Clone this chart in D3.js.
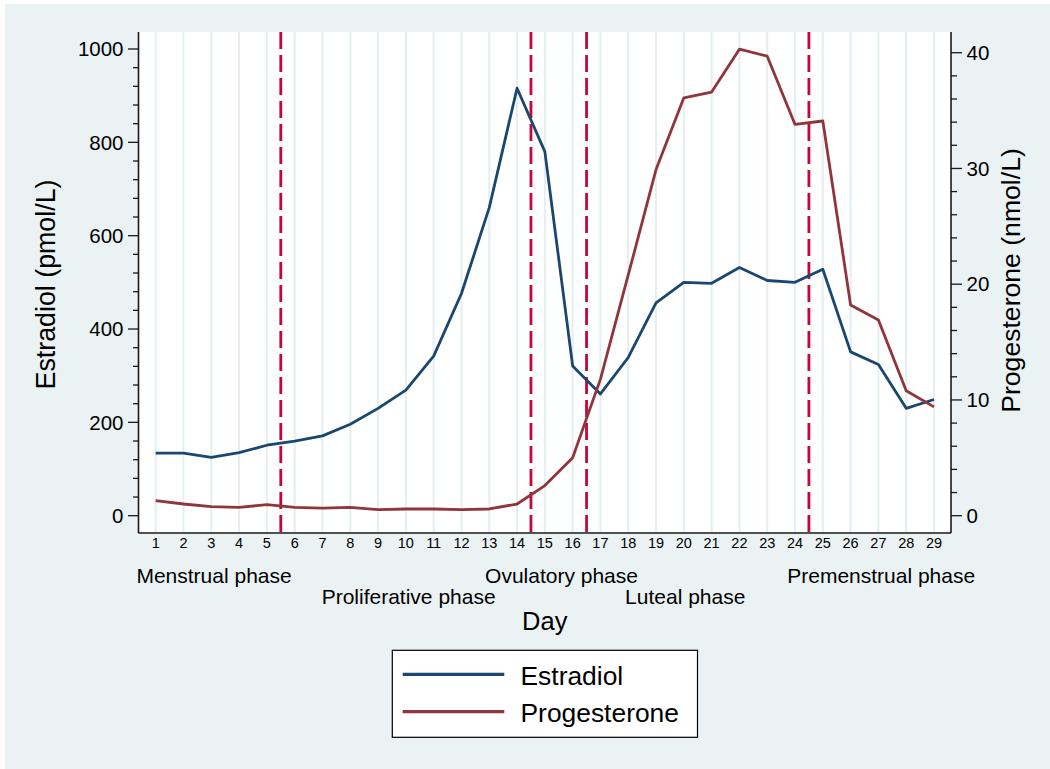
<!DOCTYPE html>
<html>
<head>
<meta charset="utf-8">
<script src="https://cdn.jsdelivr.net/npm/d3@7"></script>
<style>
  html, body { margin: 0; padding: 0; background: #ffffff; }
  svg { display: block; font-family: "Liberation Sans", Arial, Helvetica, sans-serif; }
</style>
</head>
<body>
<svg id="chart" width="1050" height="769"></svg>
<script>
// Cycle days and mean hormone levels per day
const days = [1, 2, 3, 4, 5, 6, 7, 8, 9, 10, 11, 12, 13, 14, 15, 16, 17, 18, 19, 20, 21, 22, 23, 24, 25, 26, 27, 28, 29];
const estradiol = [134, 134, 125, 135, 151, 160, 171, 196, 230, 269, 342, 476, 660, 916, 780,
                   321, 261, 339, 456, 500, 498, 532, 504, 500, 528, 351, 324, 230, 249];
const progesterone = [1.30, 1.01, 0.78, 0.72, 0.95, 0.72, 0.66, 0.72, 0.52, 0.58, 0.58, 0.52, 0.58, 1.01, 2.6,
                      5.0, 11.8, 20.8, 29.9, 36.1, 36.6, 40.3, 39.7, 33.8, 34.1, 18.2, 16.9, 10.8, 9.4];

// Phase boundaries (between days) and phase labels
const phaseBounds = [5.5, 14.5, 16.5, 24.5];
const phaseNames = ["Menstrual phase", "Proliferative phase", "Ovulatory phase", "Luteal phase", "Premenstrual phase"];
const phaseCenters = [3.1, 10.1, 15.6, 20.05, 27.1];
const phaseRows = [0, 1, 0, 1, 0];

// Axis ticks
const leftTicks = [0, 200, 400, 600, 800, 1000];
const leftMinor = [40, 80, 120, 160, 240, 280, 320, 360, 440, 480, 520, 560, 640, 680, 720, 760, 840, 880, 920, 960];
const rightTicks = [0, 10, 20, 30, 40];
const rightMinor = [2, 4, 6, 8, 12, 14, 16, 18, 22, 24, 26, 28, 32, 34, 36, 38];

const seriesNames = ["Estradiol", "Progesterone"];
const colors = { Estradiol: "#1a476f", Progesterone: "#90353b" };

const svg = d3.select("#chart");
const W = 1050, H = 769;

// Plot region edges
const plot = { left: 138.5, right: 951, top: 32, bottom: 533 };

const x = d3.scaleLinear().domain([1, 29]).range([155.7, 934]);
const yL = d3.scaleLinear().domain([0, 1000]).range([515.7, 49]);
const yR = d3.scaleLinear().domain([0, 40]).range([515.7, 52.7]);

// Graph background
svg.append("rect").attr("x", 5).attr("y", 4).attr("width", W - 5).attr("height", H - 4)
  .attr("fill", "#eaf2f3");

// Plot area
svg.append("rect")
  .attr("x", plot.left).attr("y", plot.top)
  .attr("width", plot.right - plot.left).attr("height", plot.bottom - plot.top)
  .attr("fill", "#ffffff");

// Vertical day gridlines
svg.append("g").selectAll("line").data(days).join("line")
  .attr("x1", d => x(d)).attr("x2", d => x(d))
  .attr("y1", plot.top).attr("y2", plot.bottom)
  .attr("stroke", "#e5eef1").attr("stroke-width", 2);

// Phase boundary lines
svg.append("g").selectAll("line").data(phaseBounds).join("line")
  .attr("x1", d => x(d)).attr("x2", d => x(d))
  .attr("y1", plot.top).attr("y2", plot.bottom)
  .attr("stroke", "#c8053a").attr("stroke-width", 2.8)
  .attr("stroke-dasharray", "17 6");

// Series lines
const lineE = d3.line().x((d, i) => x(days[i])).y(d => yL(d));
const lineP = d3.line().x((d, i) => x(days[i])).y(d => yR(d));

svg.append("path").datum(estradiol)
  .attr("d", lineE).attr("fill", "none")
  .attr("stroke", colors.Estradiol).attr("stroke-width", 2.8)
  .attr("stroke-linejoin", "round");

svg.append("path").datum(progesterone)
  .attr("d", lineP).attr("fill", "none")
  .attr("stroke", colors.Progesterone).attr("stroke-width", 2.8)
  .attr("stroke-linejoin", "round");

// Left axis
const gL = svg.append("g").attr("transform", `translate(${plot.left},0)`);
gL.append("line").attr("x1", 0).attr("x2", 0).attr("y1", plot.top).attr("y2", plot.bottom)
  .attr("stroke", "#1a1a1a").attr("stroke-width", 1.6);
gL.selectAll("line.minor").data(leftMinor).join("line").attr("class", "minor")
  .attr("x1", 0).attr("x2", -5.5).attr("y1", d => yL(d)).attr("y2", d => yL(d))
  .attr("stroke", "#1a1a1a").attr("stroke-width", 1.3);
gL.selectAll("line.major").data(leftTicks).join("line").attr("class", "major")
  .attr("x1", 0).attr("x2", -10.5).attr("y1", d => yL(d)).attr("y2", d => yL(d))
  .attr("stroke", "#1a1a1a").attr("stroke-width", 1.3);
gL.selectAll("text").data(leftTicks).join("text")
  .attr("x", -15).attr("y", d => yL(d)).attr("dy", "0.35em")
  .attr("text-anchor", "end").attr("font-size", 20.5).attr("fill", "#000")
  .text(d => d);

// Right axis
const gR = svg.append("g").attr("transform", `translate(${plot.right},0)`);
gR.append("line").attr("x1", 0).attr("x2", 0).attr("y1", plot.top).attr("y2", plot.bottom)
  .attr("stroke", "#1a1a1a").attr("stroke-width", 1.6);
gR.selectAll("line.minor").data(rightMinor).join("line").attr("class", "minor")
  .attr("x1", 0).attr("x2", 6).attr("y1", d => yR(d)).attr("y2", d => yR(d))
  .attr("stroke", "#1a1a1a").attr("stroke-width", 1.3);
gR.selectAll("line.major").data(rightTicks).join("line").attr("class", "major")
  .attr("x1", 0).attr("x2", 11).attr("y1", d => yR(d)).attr("y2", d => yR(d))
  .attr("stroke", "#1a1a1a").attr("stroke-width", 1.3);
gR.selectAll("text").data(rightTicks).join("text")
  .attr("x", 15.5).attr("y", d => yR(d)).attr("dy", "0.35em")
  .attr("text-anchor", "start").attr("font-size", 20.5).attr("fill", "#000")
  .text(d => d);

// Bottom axis
const gB = svg.append("g");
gB.append("line").attr("x1", plot.left).attr("x2", plot.right).attr("y1", plot.bottom).attr("y2", plot.bottom)
  .attr("stroke", "#1a1a1a").attr("stroke-width", 1.6);
gB.selectAll("text.day").data(days).join("text").attr("class", "day")
  .attr("x", d => x(d)).attr("y", 548.3)
  .attr("text-anchor", "middle").attr("font-size", 14.5).attr("fill", "#000")
  .text(d => d);

// Phase labels in two staggered rows
gB.selectAll("text.phase").data(phaseNames).join("text").attr("class", "phase")
  .attr("x", (d, i) => x(phaseCenters[i]))
  .attr("y", (d, i) => phaseRows[i] === 0 ? 582.5 : 604.3)
  .attr("text-anchor", "middle").attr("font-size", 21).attr("fill", "#000")
  .text(d => d);

// Axis titles
svg.append("text")
  .attr("x", (plot.left + plot.right) / 2).attr("y", 630)
  .attr("text-anchor", "middle").attr("font-size", 25.5).attr("fill", "#000")
  .text("Day");

svg.append("text")
  .attr("transform", `translate(55,${(plot.top + plot.bottom) / 2 + 2}) rotate(-90)`)
  .attr("text-anchor", "middle").attr("font-size", 26.8).attr("fill", "#000")
  .text("Estradiol (pmol/L)");

svg.append("text")
  .attr("transform", `translate(1020,${(plot.top + plot.bottom) / 2 - 2}) rotate(-90)`)
  .attr("text-anchor", "middle").attr("font-size", 26.6).attr("fill", "#000")
  .text("Progesterone (nmol/L)");

// Legend
const leg = svg.append("g");
leg.append("rect").attr("x", 392.3).attr("y", 650.3).attr("width", 305.2).attr("height", 87)
  .attr("fill", "#ffffff").attr("stroke", "#000").attr("stroke-width", 1.2);
const legRows = [674.3, 711.7];
seriesNames.forEach((name, i) => {
  leg.append("line").attr("x1", 402.7).attr("x2", 504.3)
    .attr("y1", legRows[i]).attr("y2", legRows[i])
    .attr("stroke", colors[name]).attr("stroke-width", 3.2);
  leg.append("text").attr("x", 520.5).attr("y", legRows[i] + 10.7)
    .attr("font-size", 26.4).attr("fill", "#000")
    .text(name);
});
</script>
</body>
</html>
